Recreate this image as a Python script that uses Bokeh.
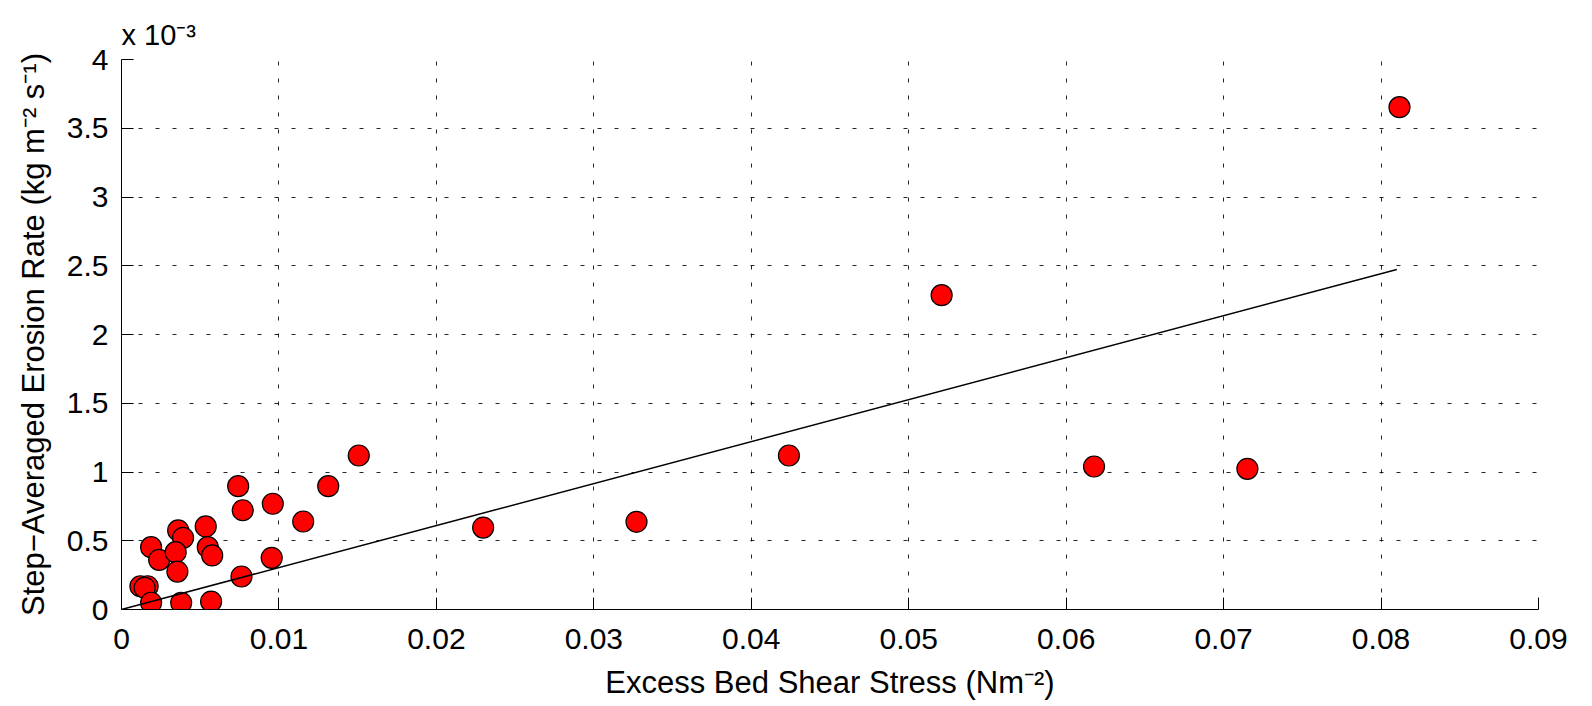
from bokeh.plotting import figure
from bokeh.models import Range1d, FixedTicker, Title
from bokeh.embed import file_html
from bokeh.resources import INLINE

# Excess bed shear stress (N m^-2)
shear = [0.01507, 0.00741, 0.01313, 0.00770, 0.00961, 0.01154, 0.00360, 0.00391,
         0.00535, 0.00188, 0.00548, 0.00576, 0.00239, 0.00344, 0.00355, 0.00954,
         0.00762, 0.00120, 0.00166, 0.00147, 0.00188, 0.00379, 0.00569,
         0.02297, 0.03271, 0.04239, 0.05209, 0.06177, 0.07151, 0.08117]
# Step-averaged erosion rate (x 10^-3 kg m^-2 s^-1)
erosion = [1.120, 0.897, 0.897, 0.722, 0.769, 0.640, 0.575, 0.521,
           0.604, 0.453, 0.453, 0.393, 0.361, 0.417, 0.276, 0.376,
           0.240, 0.169, 0.169, 0.158, 0.049, 0.049, 0.058,
           0.596, 0.638, 1.120, 2.286, 1.040, 1.023, 3.653]
# fitted line
fit_x = [0.0, 0.0810]
fit_y = [0.0, 2.473]

x_ticks = [0, 0.01, 0.02, 0.03, 0.04, 0.05, 0.06, 0.07, 0.08, 0.09]
x_tick_labels = ["0", "0.01", "0.02", "0.03", "0.04", "0.05", "0.06", "0.07", "0.08", "0.09"]
y_ticks = [0, 0.5, 1, 1.5, 2, 2.5, 3, 3.5, 4]
y_tick_labels = ["0", "0.5", "1", "1.5", "2", "2.5", "3", "3.5", "4"]

x_title = "Excess Bed Shear Stress (Nm\u207b\u00b2)"
y_title = "Step\u2212Averaged Erosion Rate (kg m\u207b\u00b2 s\u207b\u00b9)"
exponent = "x 10\u207b\u00b3"

FONT = "Liberation Sans"
TICK_FS = "30px"
LAB_FS = "31px"

W, H = 1592, 706
FL, FT, FR, FB = 121, 59, 1538, 609   # frame edges in page pixels

p = figure(width=W, height=H, output_backend="svg", toolbar_location=None,
           x_range=Range1d(0, 0.09), y_range=Range1d(0, 4),
           min_border_left=FL, min_border_right=W - FR,
           min_border_top=FT, min_border_bottom=H - FB)
p.outline_line_color = None
p.background_fill_color = "white"
p.border_fill_color = "white"

p.title = Title(text=exponent, align="left", offset=0, standoff=17,
                text_font=FONT, text_font_size="29px", text_font_style="normal",
                text_color="black")

for ax, ticks, labels in ((p.xaxis[0], x_ticks, x_tick_labels), (p.yaxis[0], y_ticks, y_tick_labels)):
    ax.ticker = FixedTicker(ticks=ticks)
    ax.major_label_overrides = {t: l for t, l in zip(ticks, labels)}
    ax.major_tick_in = 12
    ax.major_tick_out = 0
    ax.minor_tick_line_color = None
    ax.axis_line_color = "black"
    ax.axis_line_width = 1
    ax.major_tick_line_color = "black"
    ax.major_label_text_font = FONT
    ax.major_label_text_font_size = TICK_FS
    ax.major_label_text_color = "black"
    ax.axis_label_text_font = FONT
    ax.axis_label_text_font_size = LAB_FS
    ax.axis_label_text_font_style = "normal"
    ax.axis_label_text_color = "black"

p.xaxis.axis_label = x_title
p.yaxis.axis_label = y_title
p.xaxis.major_label_standoff = 19
p.xaxis.axis_label_standoff = 13
p.yaxis.major_label_standoff = 13
p.yaxis.axis_label_standoff = 13

for g, ticks in ((p.xgrid[0], x_ticks), (p.ygrid[0], y_ticks)):
    g.grid_line_color = "black"
    g.grid_line_alpha = 0.85
    g.grid_line_dash = "4 13"
    g.grid_line_width = 1
    g.ticker = FixedTicker(ticks=ticks)

p.scatter(shear, erosion, size=21, marker="circle", fill_color="#ff0000",
          line_color="black", line_width=1.2)
p.line(fit_x, fit_y, line_color="black", line_width=1.5)

open("out.html", "w").write(file_html(p, INLINE))
